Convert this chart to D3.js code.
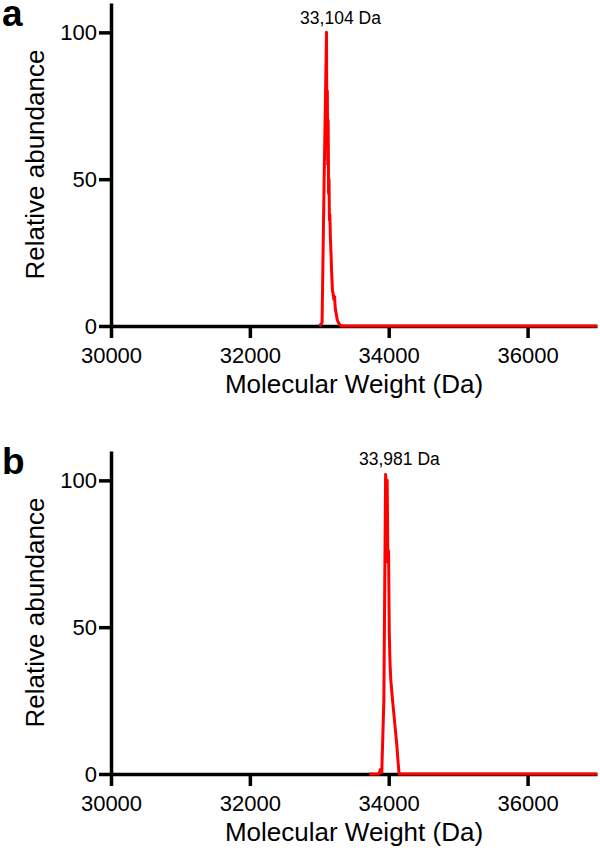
<!DOCTYPE html>
<html><head><meta charset="utf-8">
<script src="https://cdn.jsdelivr.net/npm/d3@7"></script>
<style>
body{margin:0;background:#fff;}
svg{display:block;font-family:"Liberation Sans",Arial,sans-serif;}
</style></head>
<body>
<svg id="c" width="600" height="854"></svg>
<script>
// ---- data ----
const panelLetters = ["a", "b"];
const peakLabels = ["33,104 Da", "33,981 Da"];
const peakMass = [33104, 33981];
const xTicks = [30000, 32000, 34000, 36000];
const yTicks = [0, 50, 100];
const xDomain = [30000, 37000];
const yDomain = [0, 110];
const xTitle = "Molecular Weight (Da)";
const yTitle = "Relative abundance";

const massA = [33000,33040,33070,33104,33110,33116,33122,33128,33134,33140,33146,33152,33160,33170,33180,33190,33200,33210,33220,33230,33245,33260,33280,33300,33330,37000];
const abundA = [0,1,50,100,62,80,55,70,45,50,36,38,30,24,17,12,11,9,10,6,4,2,1,0.3,0,0];

const massB = [33720,33860,33880,33900,33930,33955,33968,33978,33988,33998,34008,34018,34030,34045,34060,34080,34100,34120,34135,34150,37000];
const abundB = [0,0,1.5,0.5,25,102,96,100,72,76,48,38,32,28,24,19,14,9,4,0,0];

const series = [
  massA.map((m,i)=>({m, v: abundA[i]})),
  massB.map((m,i)=>({m, v: abundB[i]}))
];

const svg = d3.select("#c");
const offsets = [0, 448];

series.forEach((data, k) => {
  const top = 3 + offsets[k], bottom = 326 + offsets[k];
  const x = d3.scaleLinear().domain(xDomain).range([111, 597]);
  const y = d3.scaleLinear().domain(yDomain).range([bottom, top]);
  const g = svg.append("g");

  // axes
  const xa = g.append("g").attr("transform", `translate(0,${bottom})`)
    .call(d3.axisBottom(x).tickValues(xTicks).tickFormat(d3.format("d")).tickSize(12).tickSizeOuter(0).tickPadding(9));
  const ya = g.append("g").attr("transform", `translate(111,0)`)
    .call(d3.axisLeft(y).tickValues(yTicks).tickSize(12).tickSizeOuter(0).tickPadding(2));
  [xa, ya].forEach(a => {
    a.selectAll("path.domain").attr("stroke", "#000").attr("stroke-width", 3.5);
    a.selectAll(".tick line").attr("stroke", "#000").attr("stroke-width", 3.5);
    a.selectAll(".tick text").attr("fill", "#000").attr("font-size", 22)
      .attr("font-family", '"Liberation Sans",Arial,sans-serif');
  });

  // spectrum
  g.append("path").datum(data)
    .attr("fill", "none").attr("stroke", "#ff0000").attr("stroke-width", 3)
    .attr("stroke-linejoin", "round")
    .attr("d", d3.line().x(d => x(d.m)).y(d => y(d.v)));

  // peak label
  g.append("text").attr("x", x(peakMass[k]) + (k === 0 ? 14 : 12)).attr("y", y(100) - (k === 0 ? 8 : 15))
    .attr("text-anchor", "middle").attr("font-size", 17.5).text(peakLabels[k]);

  // titles
  g.append("text").attr("x", 354).attr("y", bottom + 67)
    .attr("text-anchor", "middle").attr("font-size", 26).text(xTitle);
  g.append("text").attr("transform", `translate(44,${(top + bottom) / 2}) rotate(-90)`)
    .attr("text-anchor", "middle").attr("font-size", 26).text(yTitle);

  // panel letter
  g.append("text").attr("x", 2).attr("y", top + 23)
    .attr("font-size", 37).attr("font-weight", "bold").text(panelLetters[k]);
});
</script>
</body></html>
